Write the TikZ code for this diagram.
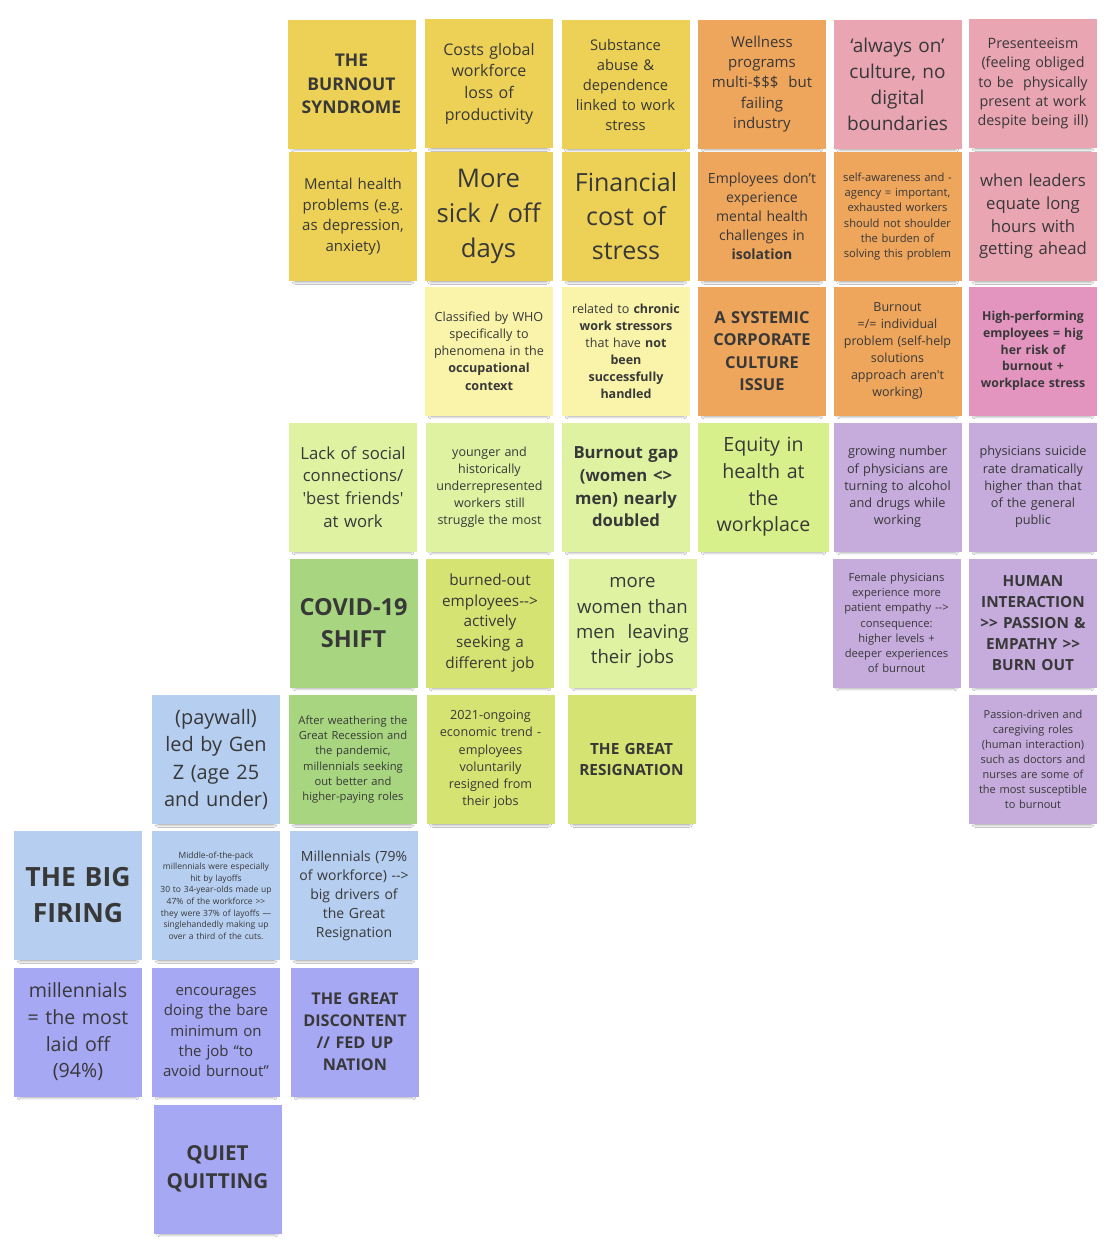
\documentclass[tikz,border=0pt]{standalone}
\usepackage{fontspec}
\setmainfont{Open Sans}[Ligatures=TeXOff]
\usepackage{tikz}
\usetikzlibrary{shadows.blur}
\usepackage{xcolor}
\definecolor{noteyellow}{RGB}{237,209,86}
\definecolor{notepale}{RGB}{249,244,170}
\definecolor{noteorange}{RGB}{238,165,92}
\definecolor{notepink}{RGB}{233,165,177}
\definecolor{notemagenta}{RGB}{227,149,192}
\definecolor{notelime}{RGB}{222,242,162}
\definecolor{noteequity}{RGB}{215,240,140}
\definecolor{notegreen}{RGB}{168,214,128}
\definecolor{noteolive}{RGB}{213,227,114}
\definecolor{notepurple}{RGB}{198,171,221}
\definecolor{noteblue}{RGB}{182,206,240}
\definecolor{noteperi}{RGB}{166,168,244}
\newcommand{\notesize}[1]{\fontsize{#1}{\fpeval{1.36*#1}}\selectfont}
\tikzset{
    % sticky note
    note/.style={rectangle, fill=#1, minimum width=128pt, minimum height=129pt,
                text width=126pt, inner sep=0pt, align=center, text=black!78,
                blur shadow={shadow xshift=0pt, shadow yshift=-7pt, shadow scale=0.9,
                             shadow blur radius=4pt, shadow opacity=65}},
}

\begin{document}
\begin{tikzpicture}[x=1pt, y=-1pt]
\useasboundingbox[fill=white] (0,0) rectangle (1110,1251);

% burnout
\node[note=noteyellow, font=\notesize{17.5}\bfseries] (syndrome) at (351.5,84)  {THE\\BURNOUT\\SYNDROME};
\node[note=noteyellow, font=\notesize{16}]      (costs)     at (489,83.5)   {Costs global\\workforce\\loss of\\productivity};
\node[note=noteyellow, font=\notesize{14.7}]    (substance) at (625.5,84.5) {Substance\\abuse \&\\dependence\\linked to work\\stress};
\node[note=noteyellow, font=\notesize{15}]      (mental)    at (353,216.5)  {Mental health\\problems (e.g.\\as depression,\\anxiety)};
\node[note=noteyellow, font=\notesize{25.7}]    (sickdays)  at (488.5,216.5) {More\\sick / off\\days};
\node[note=noteyellow, font=\notesize{25}]      (financial) at (626,216.5)  {Financial\\cost of\\stress};
\node[note=notepale, font=\notesize{12.6}]      (who)       at (489,351)    {Classified by WHO\\specifically to\\phenomena in the\\\textbf{occupational}\\\textbf{context}};
\node[note=notepale, font=\notesize{12.5}]      (chronic)   at (626,351)    {related to \textbf{chronic}\\\textbf{work stressors}\\that have \textbf{not}\\\textbf{been}\\\textbf{successfully}\\\textbf{handled}};

% corporate culture
\node[note=noteorange, font=\notesize{15}]      (wellness)  at (762,84)     {Wellness\\programs\\multi-\$\$\$~ but\\failing\\industry};
\node[note=notepink, font=\notesize{19}]        (alwayson)  at (897.5,84.5) {‘always on’\\culture, no\\digital\\boundaries};
\node[note=notepink, font=\notesize{14.3}]      (present)   at (1033,83.5)  {Presenteeism\\(feeling obliged\\to be~ physically\\present at work\\despite being ill)};
\node[note=noteorange, font=\notesize{14}]      (isolation) at (762,216.5)  {Employees don’t\\experience\\mental health\\challenges in\\\textbf{isolation}};
\node[note=noteorange, font=\notesize{11.2}]    (selfaware) at (897.5,216.5) {self-awareness and -\\agency = important,\\exhausted workers\\should not shoulder\\the burden of\\solving this problem};
\node[note=notepink, font=\notesize{16.7}]      (leaders)   at (1033,216.5) {when leaders\\equate long\\hours with\\getting ahead};
\node[note=noteorange, font=\notesize{16.4}\bfseries] (systemic) at (762,351) {A SYSTEMIC\\CORPORATE\\CULTURE\\ISSUE};
\node[note=noteorange, font=\notesize{12.5}]    (individual) at (897.5,351) {Burnout\\=/= individual\\problem (self-help\\solutions\\approach aren't\\working)};
\node[note=notemagenta, font=\notesize{12.3}\bfseries] (highperf) at (1033,351) {High-performing\\employees = hig\\her risk of\\burnout +\\workplace stress};

% equity
\node[note=notelime, font=\notesize{16.7}]      (social)    at (353,487)    {Lack of social\\connections/\\'best friends'\\at work};
\node[note=notelime, font=\notesize{12.5}]      (younger)   at (489.5,487)  {younger and\\historically\\underrepresented\\workers still\\struggle the most};
\node[note=notelime, font=\notesize{16.7}\bfseries] (gap)   at (626,487)    {Burnout gap\\(women <>\\men) nearly\\doubled};
\node[note=noteequity, font=\notesize{19.6}, minimum width=131pt] (equity) at (763.5,487) {Equity in\\health at\\the\\workplace};
\node[note=notepurple, font=\notesize{12.7}]    (alcohol)   at (897.5,487)  {growing number\\of physicians are\\turning to alcohol\\and drugs while\\working};
\node[note=notepurple, font=\notesize{12.7}]    (suicide)   at (1033,487)   {physicians suicide\\rate dramatically\\higher than that\\of the general\\public};

% covid / resignation
\node[note=notegreen, font=\notesize{23.5}\bfseries] (covid) at (353.5,623)  {COVID-19\\SHIFT};
\node[note=noteolive, font=\notesize{15.3}]     (seeking)   at (490,623)    {burned-out\\employees-->\\actively\\seeking a\\different job};
\node[note=notelime, font=\notesize{18.6}]      (women)     at (632.5,623)  {more\\women than\\men~ leaving\\their jobs};
\node[note=notepurple, font=\notesize{11.2}]    (female)    at (896.5,623)  {Female physicians\\experience more\\patient empathy -->\\consequence:\\higher levels +\\deeper experiences\\of burnout};
\node[note=notepurple, font=\notesize{15.3}\bfseries] (human) at (1033,623)  {HUMAN\\INTERACTION\\>> PASSION \&\\EMPATHY >>\\BURN OUT};
\node[note=noteblue, font=\notesize{19.9}]      (genz)      at (216,759.5)  {(paywall)\\led by Gen\\Z (age 25\\and under)};
\node[note=notegreen, font=\notesize{11.2}]     (recession) at (353,759.5)  {After weathering the\\Great Recession and\\the pandemic,\\millennials seeking\\out better and\\higher-paying roles};
\node[note=noteolive, font=\notesize{12.6}]     (ongoing)   at (490.5,759.5) {2021-ongoing\\economic trend -\\employees\\voluntarily\\resigned from\\their jobs};
\node[note=noteolive, font=\notesize{15.4}\bfseries] (resignation) at (631.5,759.5) {THE GREAT\\RESIGNATION};
\node[note=notepurple, font=\notesize{11}]      (passion)   at (1033,759.5) {Passion-driven and\\caregiving roles\\(human interaction)\\such as doctors and\\nurses are some of\\the most susceptible\\to burnout};

% firing / quitting
\node[note=noteblue, font=\notesize{26.5}\bfseries] (firing) at (78,895.5)  {THE BIG\\FIRING};
\node[note=noteblue, font=\notesize{8.5}]       (layoffs)   at (216,895.5)  {Middle-of-the-pack\\millennials were especially\\hit by layoffs\\30 to 34-year-olds made up\\47\% of the workforce >>\\they were 37\% of layoffs —\\singlehandedly making up\\over a third of the cuts.};
\node[note=noteblue, font=\notesize{14}]        (drivers)   at (354,895.5)  {Millennials (79\%\\of workforce) -->\\big drivers of\\the Great\\Resignation};
\node[note=noteperi, font=\notesize{19.6}]      (laidoff)   at (78,1032)    {millennials\\= the most\\laid off\\(94\%)};
\node[note=noteperi, font=\notesize{15}]        (bare)      at (216,1032)   {encourages\\doing the bare\\minimum on\\the job “to\\avoid burnout”};
\node[note=noteperi, font=\notesize{16.2}\bfseries] (discontent) at (355,1032) {THE GREAT\\DISCONTENT\\// FED UP\\NATION};
\node[note=noteperi, font=\notesize{20.6}\bfseries] (quiet) at (217.5,1169)  {QUIET\\QUITTING};
\end{tikzpicture}
\end{document}
